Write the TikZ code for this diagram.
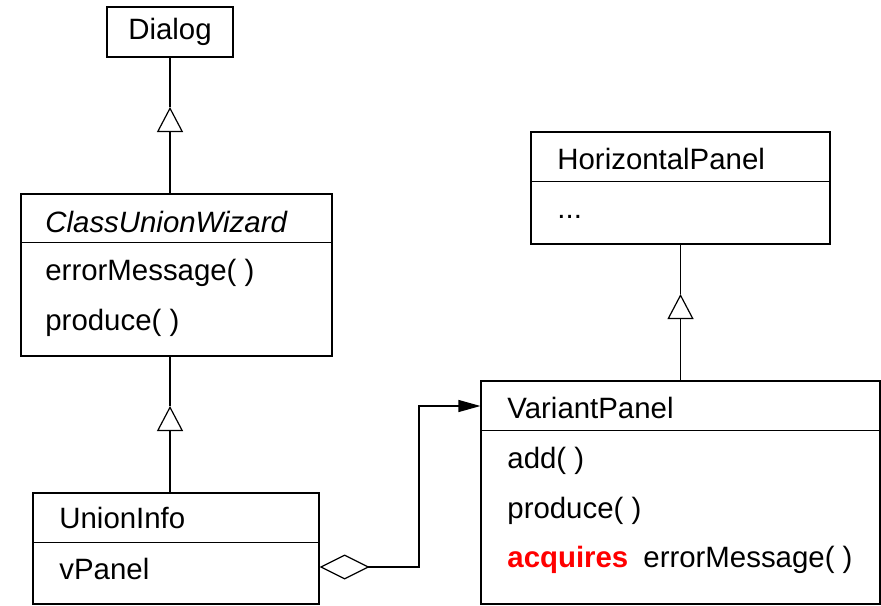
\documentclass[tikz,border=0pt]{standalone}
\usepackage{fontspec}
\setmainfont{Liberation Sans}
\usetikzlibrary{arrows.meta,calc}
\definecolor{kwred}{RGB}{255,0,0}
\begin{document}
\begin{tikzpicture}[x=0.5pt,y=-0.5pt,
  font=\fontsize{14.7}{17}\selectfont,
  box/.style={draw, line width=0.6pt, inner sep=0pt, rectangle},
  txt/.style={anchor=base west, inner sep=0pt},
  conn/.style={line width=0.6pt},
  gen/.style={conn, -{Triangle[open,length=12.5pt,width=13pt]}},
  sep/.style={line width=0.6pt},
]
\useasboundingbox (0,0) rectangle (881,605);
% class boxes
\node[box, minimum width=63pt, minimum height=25pt] (dialog) at (170,32) {Dialog};
\node[box, minimum width=155.5pt, minimum height=81pt] (cuw) at (176.5,275) {};
\node[box, minimum width=143pt, minimum height=55.5pt] (uinfo) at (176,548.5) {};
\node[box, minimum width=149.5pt, minimum height=56pt] (hpanel) at (680.5,188) {};
\node[box, minimum width=199.5pt, minimum height=111.5pt] (vpanel) at (680.5,492.5) {};
% separators
\draw[sep] ($(cuw.north west)+(0,49)$) -- ($(cuw.north east)+(0,49)$);
\draw[sep] ($(uinfo.north west)+(0,50)$) -- ($(uinfo.north east)+(0,50)$);
\draw[sep] ($(hpanel.north west)+(0,50)$) -- ($(hpanel.north east)+(0,50)$);
\draw[sep] ($(vpanel.north west)+(0,50)$) -- ($(vpanel.north east)+(0,50)$);
% texts
\node[txt] (cuwname) at (45,232) {\itshape ClassUnionWizard};
\node[txt] (cuwm1) at (45,280) {errorMessage( )};
\node[txt] (cuwm2) at (45,330) {produce( )};
\node[txt] (uiname) at (59,528) {UnionInfo};
\node[txt] (uia1) at (59,579) {vPanel};
\node[txt] (hpname) at (557,169) {HorizontalPanel};
\node[txt] (hpdots) at (557,218) {...};
\node[txt] (vpname) at (507,418) {VariantPanel};
\node[txt] (vpm1) at (507,468) {add( )};
\node[txt] (vpm2) at (507,518) {produce( )};
\node[txt] (vpkw) at (507,567) {\color{kwred}\bfseries acquires};
\node[txt] (vpm3) at (643,567) {errorMessage( )};
% generalizations
\coordinate (t1) at (170,107);
\coordinate (t2) at (170,406);
\coordinate (t3) at (680.5,294);
\draw[gen] (dialog.south |- cuw.north) -- (t1);
\draw[conn] (t1) -- (dialog.south);
\draw[gen] (dialog.south |- uinfo.north) -- (t2);
\draw[conn] (t2) -- (dialog.south |- cuw.south);
\draw[gen] (vpanel.north) -- (t3);
\draw[conn] (t3) -- (hpanel.south);
% aggregation / association
\coordinate (aggrow) at (0,567);
\coordinate (bend) at (419,406);
\draw[conn, {Diamond[open,length=25pt,width=12.5pt]}-{Triangle[length=11pt,width=6pt]}]
  (uinfo.east |- aggrow) -| (bend) -- (vpanel.west |- bend);
\end{tikzpicture}
\end{document}
